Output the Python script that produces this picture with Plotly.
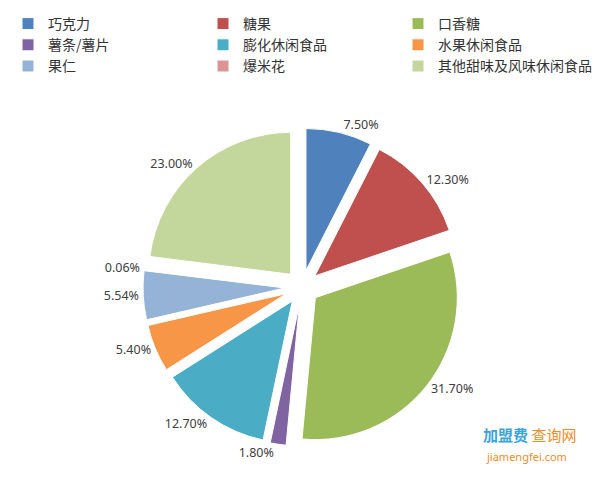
import plotly.graph_objects as go

categories = ["巧克力", "糖果", "口香糖", "薯条/薯片", "膨化休闲食品", "水果休闲食品",
              "果仁", "爆米花", "其他甜味及风味休闲食品"]
shares = [7.50, 12.30, 31.70, 1.80, 12.70, 5.40, 5.54, 0.06, 23.00]
colors = ["#4F81BD", "#C0504D", "#9BBB59", "#8064A2", "#4BACC6", "#F79646",
          "#95B3D7", "#D99694", "#C3D69B"]

fig = go.Figure(go.Pie(
    labels=categories,
    values=shares,
    marker=dict(colors=colors, line=dict(color="white", width=1)),
    sort=False,
    direction="clockwise",
    rotation=0,
    pull=[0.12] * len(shares),
    texttemplate="%{value:.2f}%",
    textposition="outside",
    textfont=dict(family="Noto Sans, DejaVu Sans", size=12.5, color="#404040"),
    hoverinfo="label+value",
    domain=dict(x=[0.225, 0.755], y=[0.07, 0.755]),
))

fig.update_layout(
    width=600, height=500,
    paper_bgcolor="white", plot_bgcolor="white",
    margin=dict(l=0, r=0, t=0, b=0),
    showlegend=True,
    legend=dict(
        orientation="h",
        x=0.0, y=1.0, xanchor="left", yanchor="top",
        entrywidth=0.325, entrywidthmode="fraction",
        font=dict(family="Noto Sans CJK SC", size=14, color="#333333"),
        itemwidth=30, tracegroupgap=0,
    ),
    annotations=[
        dict(text="<b>加盟费</b><span style='color:#F28C28'> 查询网</span>", x=0.95, y=0.075,
             xref="paper", yref="paper", xanchor="right", yanchor="bottom",
             showarrow=False, font=dict(family="Noto Sans CJK SC", size=15, color="#3BA3E0")),
        dict(text="jiamengfei.com", x=0.935, y=0.035, xref="paper", yref="paper",
             xanchor="right", yanchor="bottom", showarrow=False,
             font=dict(family="Noto Sans, DejaVu Sans", size=11, color="#F28C28")),
    ],
)

fig.write_html("out.html")
